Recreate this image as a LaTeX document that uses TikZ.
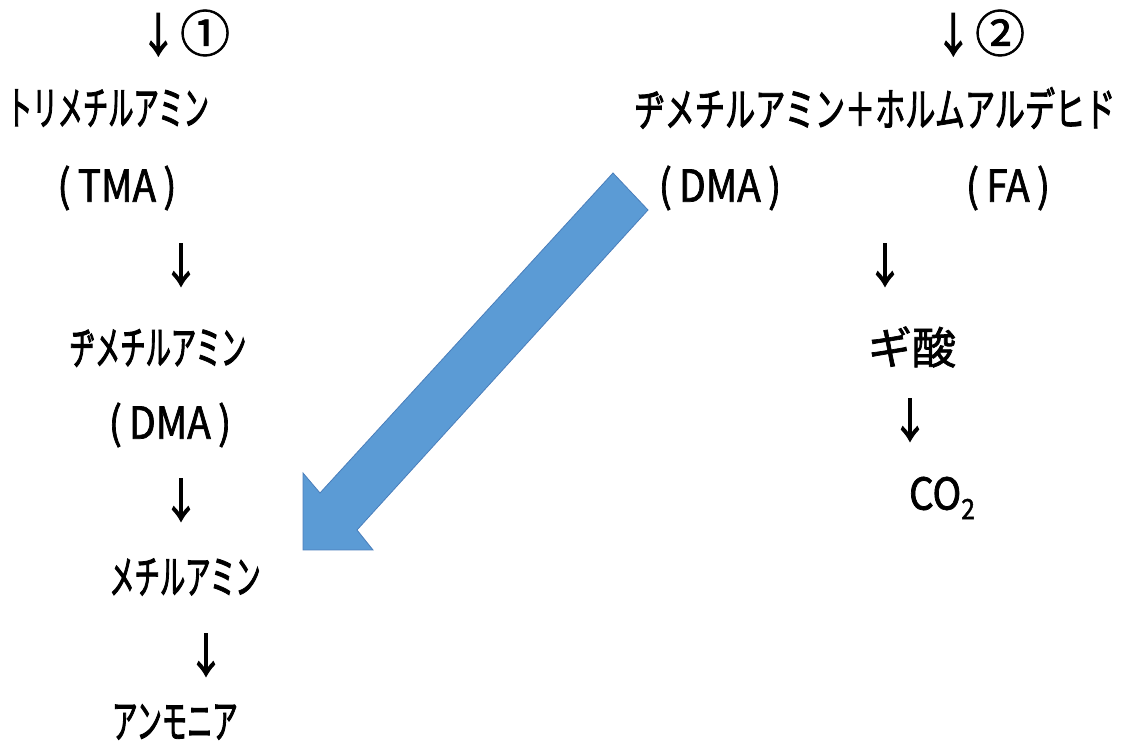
\documentclass[tikz,border=0pt]{standalone}
\usepackage{fontspec}
\usepackage{xcolor}
\usepackage{tikz}
\newfontfamily\jpkana[FakeStretch=0.55, FakeBold=1.8]{Noto Sans CJK JP}
\newfontfamily\jpwide[FakeStretch=0.655, FakeBold=1.8]{Noto Sans CJK JP}
\newfontfamily\jplatin[FakeStretch=0.88, FakeBold=1.6]{Noto Sans CJK JP}
\newfontfamily\jparrow[FakeStretch=0.8, FakeBold=2.6]{Noto Sans CJK JP}
\newfontfamily\jpfull[FakeBold=1.6]{Noto Sans CJK JP}
\definecolor{arrowblue}{HTML}{5B9BD5}
\definecolor{arrowedge}{HTML}{4A7EBB}
\newcommand{\stepdown}[1]{{\jparrow\fontsize{23}{25}\selectfont ↓}\,{\jpfull\fontsize{25}{27}\selectfont #1}}
\tikzset{
    chem/.style={font=\jpkana\fontsize{23}{25}\selectfont, inner sep=0pt, anchor=center},
    chemwide/.style={font=\jpwide\fontsize{23}{25}\selectfont, inner sep=0pt, anchor=center},
    abbr/.style={font=\jplatin\fontsize{22}{24}\selectfont, inner sep=0pt, anchor=center},
    acid/.style={font=\jpfull\fontsize{22}{24}\selectfont, inner sep=0pt, anchor=center},
    down/.style={font=\jparrow\fontsize{23}{25}\selectfont, inner sep=0pt, anchor=center},
    bigarrow/.style={fill=arrowblue, draw=arrowedge, line width=0.4pt, line join=miter} }
\usetikzlibrary{calc, positioning}

\begin{document}
\begin{tikzpicture}[x=0.5pt, y=-0.5pt]
			\useasboundingbox (0,0) rectangle (1131,747);
			% ---- route 1
			\node[inner sep=0pt] (s1) at (185,33) {\stepdown{①}};
			\node[chem] (tma) at (108,108) {トリメチルアミン};
			\node[abbr] (tmaab) at (117,188) {(\,TMA\,)};
			\node[down] (a1) at (181,265) {↓};
			\node[chem] (dma) at (158,348) {ヂメチルアミン};
			\node[abbr] (dmaab) at (170,425) {(\,DMA\,)};
			\node[down] (a2) at (181,500) {↓};
			\node[chem] (ma) at (185,577) {メチルアミン};
			\node[down] (a3) at (206,655) {↓};
			\node[chem] (nh) at (175,722) {アンモニア};
			% ---- route 2
			\node[inner sep=0pt] (s2) at (980,33) {\stepdown{②}};
			\node[chemwide] (dmafa) at (875,108) {ヂメチルアミン＋ホルムアルデヒド};
			\node[abbr] (dmaab2) at (720,188) {(\,DMA\,)};
			\node[abbr] (faab) at (1008,188) {(\,FA\,)};
			\node[down] (a4) at (885,265) {↓};
			\node[acid] (hcooh) at (912,347) {ギ酸};
			\node[down] (a5) at (910,420) {↓};
			\node[abbr] (co) at (942,498) {CO\raisebox{-0.4ex}{\fontsize{14}{16}\selectfont 2}};
			% ---- DMA goes over to route 1
			\draw[bigarrow] (613,173) -- (648,210) -- (357,530) -- (373,550)
				-- (303,550) -- (303,473) -- (320,493) -- cycle;
		\end{tikzpicture}
\end{document}
